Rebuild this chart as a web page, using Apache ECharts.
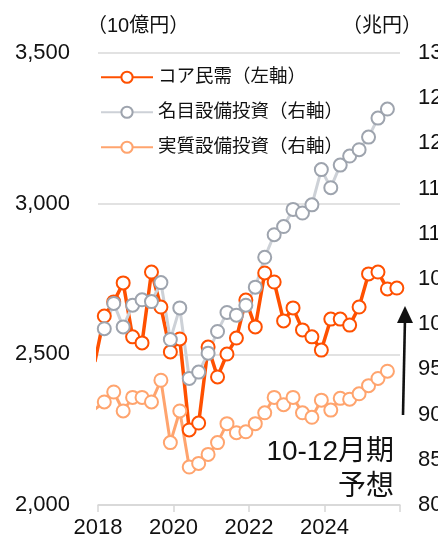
<!DOCTYPE html>
<html>
<head>
<meta charset="utf-8">
<script src="https://cdn.jsdelivr.net/npm/echarts@6/dist/echarts.min.js"></script>
<style>
  html, body { margin: 0; padding: 0; background: #fff; }
  #chart { width: 438px; height: 544px; }
</style>
</head>
<body>
<div id="chart"></div>
<script>
// Quarter-end months (plotted at the last month of each quarter)
const periods = [
  '2017-12',
  '2018-03', '2018-06', '2018-09', '2018-12',
  '2019-03', '2019-06', '2019-09', '2019-12',
  '2020-03', '2020-06', '2020-09', '2020-12',
  '2021-03', '2021-06', '2021-09', '2021-12',
  '2022-03', '2022-06', '2022-09', '2022-12',
  '2023-03', '2023-06', '2023-09', '2023-12',
  '2024-03', '2024-06', '2024-09', '2024-12',
  '2025-03', '2025-06', '2025-09', '2025-12'
];

// コア民需 (10億円, left axis); last value is the Oct-Dec forecast
const coreDemand = [
  2475,
  2627, 2674, 2737, 2558,
  2538, 2773, 2657, 2508,
  2551, 2249, 2272, 2524,
  2425, 2501, 2554, 2680,
  2591, 2770, 2740, 2611,
  2654, 2581, 2558, 2514,
  2617, 2617, 2597, 2657,
  2767, 2773, 2717, 2720
];

// 名目設備投資 (兆円, right axis)
const nominalCapex = [
  null,
  99.5, 102.3, 99.7, 102.1,
  102.7, 102.5, 104.6, 98.3,
  101.8, 94.0, 94.7, 96.8,
  99.2, 101.3, 101.0, 102.1,
  104.1, 107.4, 109.9, 110.8,
  112.7, 112.3, 113.2, 117.1,
  115.1, 117.6, 118.6, 119.3,
  120.7, 122.8, 123.8, null
];

// 実質設備投資 (兆円, right axis)
const realCapex = [
  90.6,
  91.4, 92.5, 90.4, 91.9,
  91.9, 91.4, 93.8, 86.9,
  90.4, 84.2, 84.6, 85.6,
  86.9, 89.0, 88.0, 88.1,
  89.0, 90.2, 91.9, 91.1,
  91.9, 90.2, 89.7, 91.6,
  90.5, 91.8, 91.7, 92.3,
  93.2, 94.0, 94.8, null
];

const seriesNames = ['コア民需（左軸）', '名目設備投資（右軸）', '実質設備投資（右軸）'];
const yearTicks = [2018, 2020, 2022, 2024];
const leftAxisName = '（10億円）';
const rightAxisName = '（兆円）';
const noteLines = ['10-12月期', '予想'];

const FONT = '"Liberation Sans", Arial, "Noto Sans CJK JP", sans-serif';

// month "YYYY-MM" -> fractional year on the x value axis
function toYear(p) {
  const [y, m] = p.split('-').map(Number);
  return y + (m - 1) / 12;
}
function pairs(values) {
  return periods.map((p, i) => [toYear(p), values[i]]);
}

const chart = echarts.init(document.getElementById('chart'), null, { renderer: 'canvas' });

function lineSeries(name, values, yAxisIndex, lineColor, markerColor, width) {
  return {
    name: name,
    type: 'line',
    yAxisIndex: yAxisIndex,
    data: pairs(values),
    symbol: 'circle',
    symbolSize: 13,
    showSymbol: true,
    clip: true,
    connectNulls: false,
    lineStyle: { color: lineColor, width: width },
    itemStyle: { color: '#ffffff', borderColor: markerColor, borderWidth: 2 },
    emphasis: { disabled: true },
    animation: false
  };
}

chart.setOption({
  animation: false,
  textStyle: { fontFamily: FONT },
  grid: {
    left: 98, right: 38, top: 53, bottom: 39,
    containLabel: false,
    outerBoundsMode: 'none'
  },
  legend: {
    orient: 'vertical',
    left: 100,
    top: 68,
    padding: 0,
    itemWidth: 52,
    itemHeight: 14,
    itemGap: 16.5,
    data: seriesNames,
    textStyle: { fontSize: 18.5, color: '#111', fontFamily: FONT },
    selectedMode: false
  },
  xAxis: {
    type: 'value',
    min: 2018,
    max: 2026,
    interval: 2,
    axisLine: { show: true, lineStyle: { color: '#d6d6d6', width: 1.5 } },
    axisTick: { show: true, length: 7, inside: false, lineStyle: { color: '#d6d6d6', width: 1.5 } },
    splitLine: { show: false },
    axisLabel: {
      fontSize: 22,
      color: '#111',
      margin: 12,
      fontFamily: FONT,
      formatter: v => (yearTicks.indexOf(v) >= 0 ? String(v) : '')
    }
  },
  yAxis: [
    {
      type: 'value',
      position: 'left',
      min: 2000,
      max: 3500,
      interval: 500,
      axisLine: { show: false },
      axisTick: { show: false },
      splitLine: { show: true, lineStyle: { color: '#d9d9d9', width: 1.5 } },
      axisLabel: {
        fontSize: 22,
        color: '#111',
        margin: 28,
        fontFamily: FONT,
        formatter: v => v.toLocaleString('en-US')
      }
    },
    {
      type: 'value',
      position: 'right',
      min: 80,
      max: 130,
      interval: 5,
      axisLine: { show: false },
      axisTick: { show: false },
      splitLine: { show: false },
      axisLabel: { fontSize: 22, color: '#111', margin: 18, fontFamily: FONT }
    }
  ],
  series: [
    lineSeries(seriesNames[0], coreDemand, 0, '#ff5000', '#ff5000', 3.5),
    lineSeries(seriesNames[1], nominalCapex, 1, '#cdd1d7', '#9ea4ae', 3),
    lineSeries(seriesNames[2], realCapex, 1, '#ffa46e', '#ffa46e', 3)
  ],
  graphic: [
    {
      type: 'text', x: 87, y: 16,
      style: { text: leftAxisName, fontSize: 20, fontFamily: FONT, fill: '#111' }
    },
    {
      type: 'text', x: 342, y: 16,
      style: { text: rightAxisName, fontSize: 20, fontFamily: FONT, fill: '#111' }
    },
    {
      type: 'text', x: 394, y: 438,
      style: {
        text: noteLines[0],
        fontSize: 28, fontFamily: FONT,
        fill: '#111',
        align: 'right', verticalAlign: 'top'
      }
    },
    {
      type: 'text', x: 394, y: 473,
      style: {
        text: noteLines[1],
        fontSize: 28, fontFamily: FONT,
        fill: '#111',
        align: 'right', verticalAlign: 'top'
      }
    },
    {
      type: 'line',
      shape: { x1: 403, y1: 415, x2: 405, y2: 318 },
      style: { stroke: '#111', lineWidth: 2.6 }
    },
    {
      type: 'polygon',
      shape: { points: [[405, 306], [397, 323], [413, 323]] },
      style: { fill: '#111' }
    }
  ]
});
</script>
</body>
</html>
